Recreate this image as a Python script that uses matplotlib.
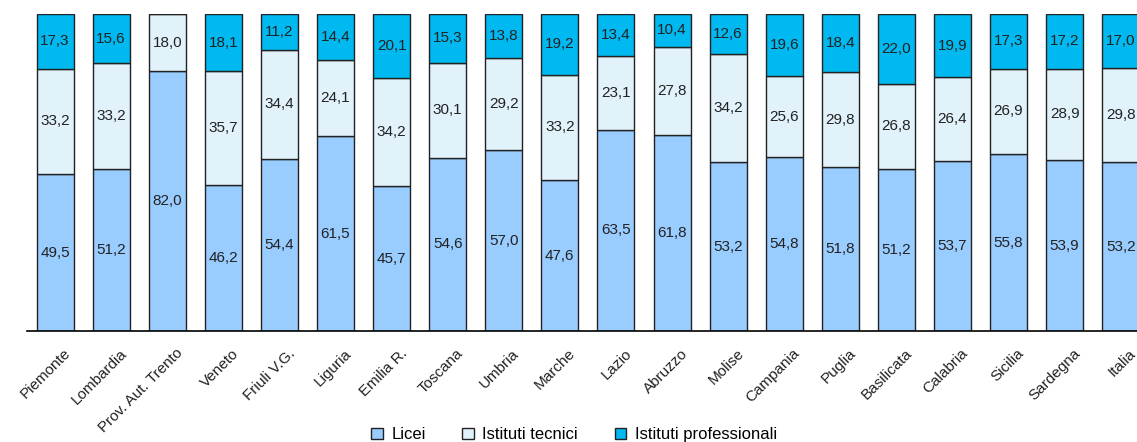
import matplotlib
matplotlib.use("Agg")
import matplotlib.pyplot as plt
import numpy as np
from matplotlib.patches import Patch

plt.rcParams['font.family'] = ['Liberation Sans', 'DejaVu Sans']

regions = ['Piemonte', 'Lombardia', 'Prov. Aut. Trento', 'Veneto', 'Friuli V.G.',
           'Liguria', 'Emilia R.', 'Toscana', 'Umbria', 'Marche', 'Lazio',
           'Abruzzo', 'Molise', 'Campania', 'Puglia', 'Basilicata', 'Calabria',
           'Sicilia', 'Sardegna', 'Italia']
licei = [49.5, 51.2, 82.0, 46.2, 54.4, 61.5, 45.7, 54.6, 57.0, 47.6,
         63.5, 61.8, 53.2, 54.8, 51.8, 51.2, 53.7, 55.8, 53.9, 53.2]
tecnici = [33.2, 33.2, 18.0, 35.7, 34.4, 24.1, 34.2, 30.1, 29.2, 33.2,
           23.1, 27.8, 34.2, 25.6, 29.8, 26.8, 26.4, 26.9, 28.9, 29.8]
professionali = [17.3, 15.6, 0.0, 18.1, 11.2, 14.4, 20.1, 15.3, 13.8, 19.2,
                 13.4, 10.4, 12.6, 19.6, 18.4, 22.0, 19.9, 17.3, 17.2, 17.0]

series = [('Licei', licei, '#99ccff'),
          ('Istituti tecnici', tecnici, '#e1f2fb'),
          ('Istituti professionali', professionali, '#00b9f0')]

fig = plt.figure(figsize=(11.37, 4.42), dpi=100)
ax = fig.add_axes([27 / 1137, 111 / 442, 1110 / 1137, 317 / 442])

x = np.arange(len(regions))
bottom = np.zeros(len(regions))
for name, vals, col in series:
    vals = np.array(vals)
    ax.bar(x, vals, width=0.66, bottom=bottom, color=col,
           edgecolor='#222222', linewidth=1.0)
    for xi, b, v in zip(x, bottom, vals):
        if v > 0:
            ax.text(xi, b + v / 2, f"{v:.1f}".replace('.', ','),
                    ha='center', va='center', fontsize=11, color='#222222')
    bottom += vals

ax.set_xlim(-0.5, 19.29)
ax.set_ylim(0, 100)
ax.set_yticks([])
ax.set_xticks(x + 0.15)
ax.set_xticklabels(regions, rotation=45, ha='right', rotation_mode='anchor',
                   fontsize=11, color='#222222')
ax.tick_params(axis='x', length=0, pad=11)
for s in ['top', 'right', 'left']:
    ax.spines[s].set_visible(False)
ax.spines['bottom'].set_linewidth(1.2)

handles = [Patch(facecolor=c, edgecolor='#222222', label=n) for n, _, c in series]
fig.legend(handles=handles, loc='lower center', bbox_to_anchor=(0.505, -0.035),
           ncol=3, frameon=False, fontsize=12, handlelength=0.7,
           handleheight=0.7, handletextpad=0.5, columnspacing=2.2)

fig.savefig('out.png', dpi=100)
